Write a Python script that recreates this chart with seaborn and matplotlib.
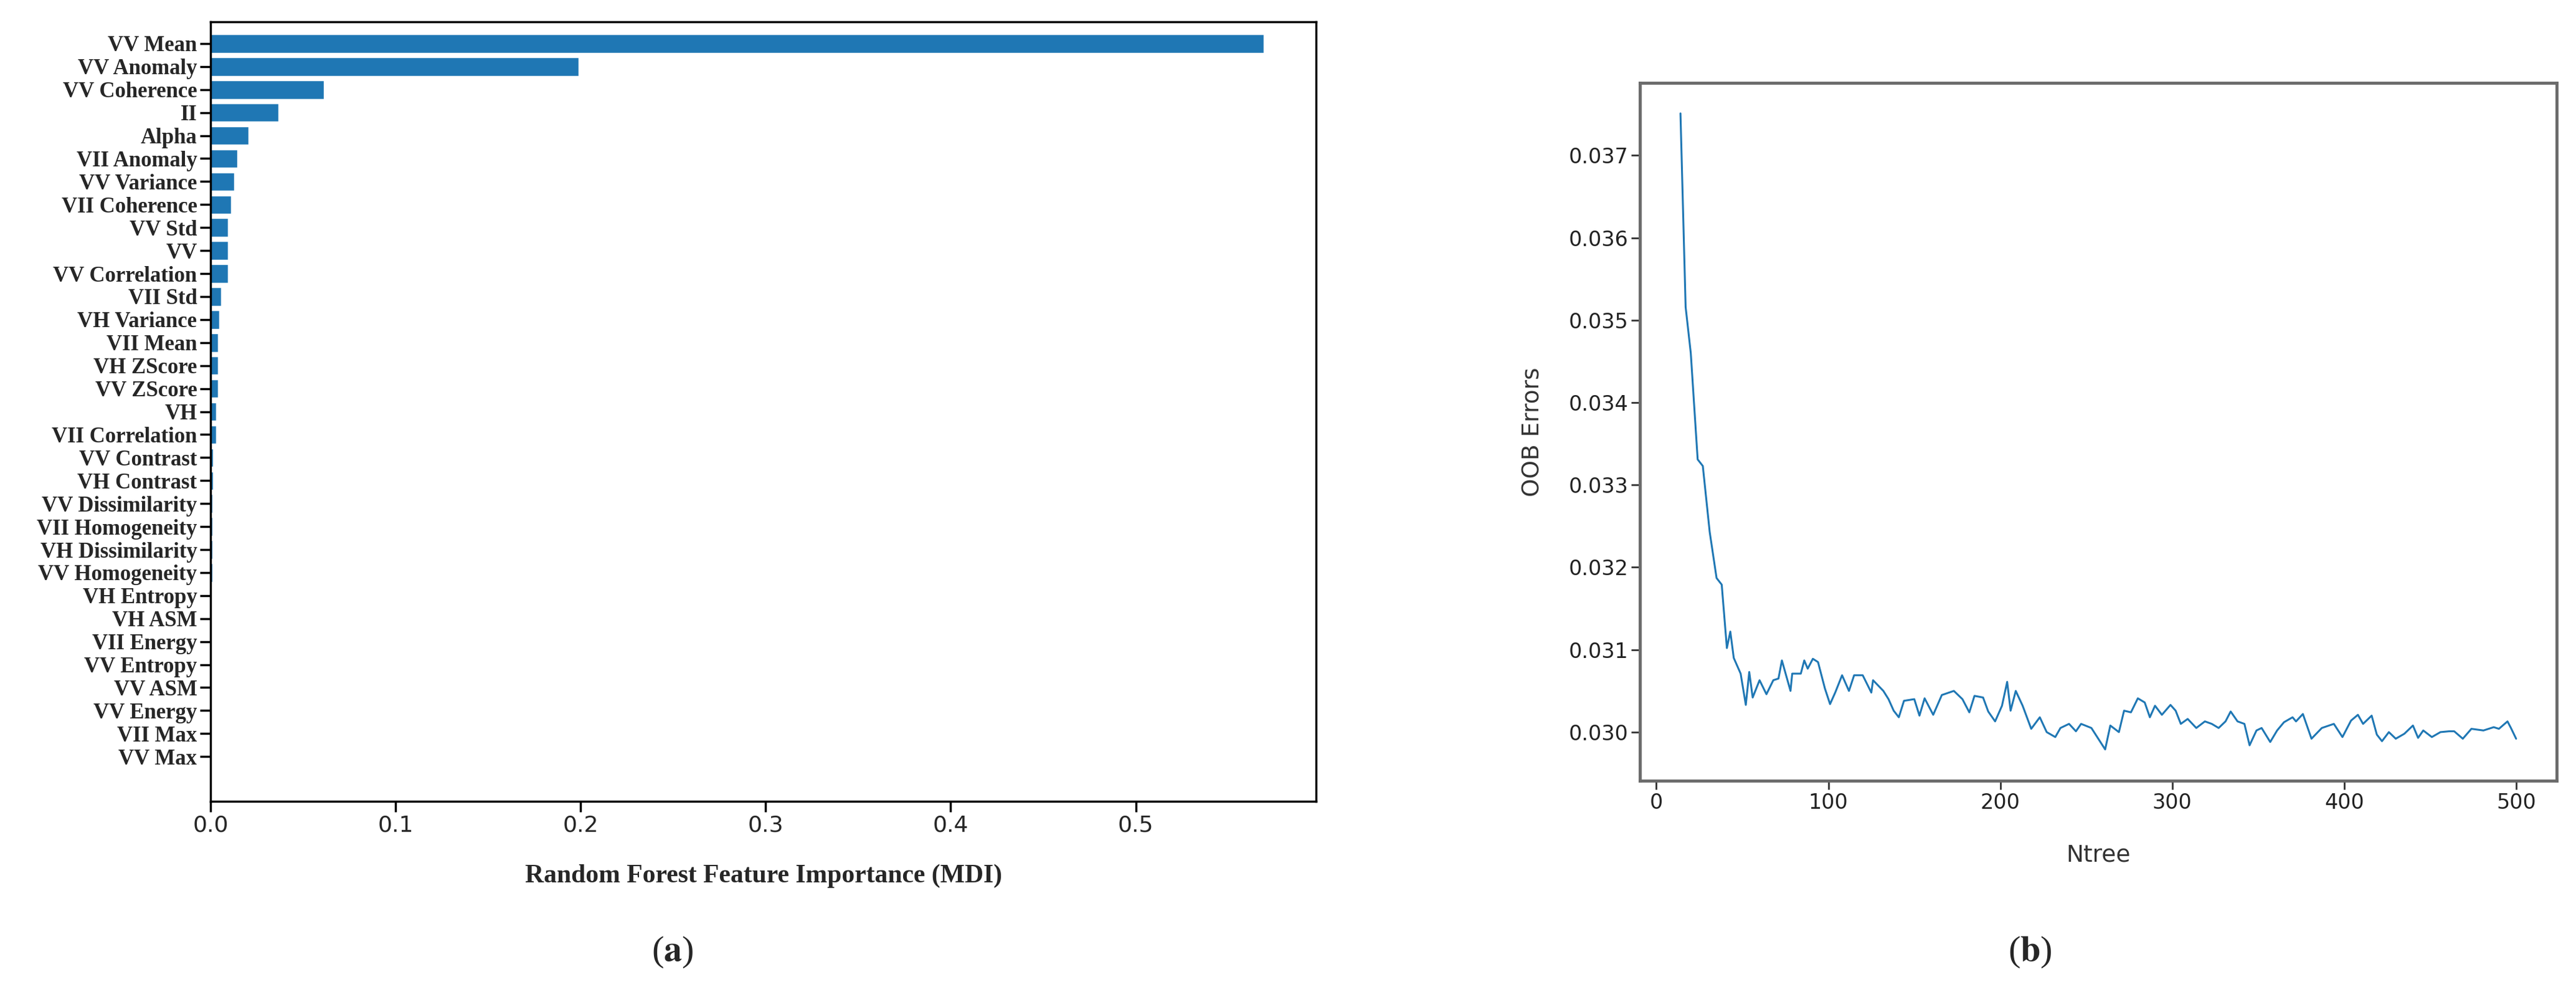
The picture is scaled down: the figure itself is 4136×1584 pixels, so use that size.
import matplotlib
matplotlib.use("Agg")
import matplotlib.pyplot as plt
import seaborn as sns
import pandas as pd

features = ["VV Mean", "VV Anomaly", "VV Coherence", "II", "Alpha", "VII Anomaly",
            "VV Variance", "VII Coherence", "VV Std", "VV", "VV Correlation", "VII Std",
            "VH Variance", "VII Mean", "VH ZScore", "VV ZScore", "VH", "VII Correlation",
            "VV Contrast", "VH Contrast", "VV Dissimilarity", "VII Homogeneity",
            "VH Dissimilarity", "VV Homogeneity", "VH Entropy", "VH ASM", "VII Energy",
            "VV Entropy", "VV ASM", "VV Energy", "VII Max", "VV Max"]
importance = [0.569, 0.199, 0.0612, 0.0366, 0.0206, 0.0145, 0.0128, 0.0111, 0.0093,
              0.0093, 0.0093, 0.0057, 0.0048, 0.0040, 0.0040, 0.0040, 0.0031, 0.0031,
              0.0015, 0.0013, 0.0012, 0.0011, 0.0010, 0.0010, 0.0003, 0.0002, 0.0002,
              0.0002, 0.0001, 0.0001, 0.00005, 0.00005]

ntree = [14, 17, 20, 24, 27, 31, 35, 38, 41, 43, 45, 49, 52, 54, 56, 60, 64, 68, 71, 73,
         78, 79, 84, 86, 88, 91, 94, 98, 101, 104, 108, 112, 115, 120, 125, 126, 132, 135,
         138, 141, 144, 150, 153, 156, 161, 166, 173, 178, 182, 185, 190, 193, 197, 201,
         204, 206, 209, 213, 218, 223, 227, 232, 235, 240, 244, 247, 253, 257, 261, 264,
         269, 272, 276, 280, 284, 287, 290, 294, 299, 302, 305, 309, 314, 319, 323, 327,
         331, 334, 338, 342, 345, 349, 352, 357, 361, 365, 370, 372, 376, 378, 381, 387,
         394, 399, 404, 408, 411, 416, 419, 422, 426, 430, 435, 440, 443, 446, 451, 456,
         461, 464, 469, 474, 481, 487, 490, 495, 497, 500]
oob = [0.03751, 0.03516, 0.0346, 0.03331, 0.03323, 0.03243, 0.03187, 0.03179, 0.03102,
       0.03122, 0.0309, 0.03071, 0.03033, 0.03073, 0.03042, 0.03063, 0.03046, 0.03063,
       0.03065, 0.03087, 0.03050, 0.03071, 0.03071, 0.03087, 0.03077, 0.03089, 0.03085,
       0.03053, 0.03034, 0.03048, 0.03069, 0.03050, 0.03069, 0.03069, 0.03048, 0.03063,
       0.03050, 0.03040, 0.03026, 0.03018, 0.03038, 0.03040, 0.03020, 0.03041, 0.03021,
       0.03045, 0.03050, 0.03040, 0.03024, 0.03044, 0.03042, 0.03025, 0.03013, 0.03032,
       0.03061, 0.03026, 0.03050, 0.03032, 0.03004, 0.03018, 0.03000, 0.02994, 0.03005,
       0.03010, 0.03001, 0.03010, 0.03005, 0.02992, 0.02979, 0.03008, 0.03000, 0.03026,
       0.03024, 0.03041, 0.03036, 0.03018, 0.03032, 0.03021, 0.03033, 0.03026, 0.03010,
       0.03016, 0.03005, 0.03013, 0.03010, 0.03005, 0.03013, 0.03025, 0.03013, 0.03010,
       0.02984, 0.03002, 0.03005, 0.02988, 0.03002, 0.03012, 0.03018, 0.03013, 0.03022,
       0.03010, 0.02992, 0.03005, 0.03010, 0.02994, 0.03014, 0.03021, 0.03010, 0.03020,
       0.02997, 0.02989, 0.03000, 0.02992, 0.02998, 0.03008, 0.02993, 0.03002, 0.02994,
       0.03000, 0.03001, 0.03001, 0.02992, 0.03004, 0.03002, 0.03006, 0.03004, 0.03013,
       0.03005, 0.02992]

sns.set_theme(style="white")
plt.rcParams["mathtext.fontset"] = "stix"
blue = "#1f77b4"

fig = plt.figure(figsize=(41.36, 15.84), dpi=100)

# (a) feature importance
ax1 = fig.add_axes([0.0817, 0.188, 0.4293, 0.79])
df = pd.DataFrame({"feature": features, "importance": importance})
sns.barplot(data=df, x="importance", y="feature", orient="h", color=blue,
            saturation=1, width=0.8, ax=ax1)
ax1.set_xlim(0, 0.5976)
ax1.set_ylim(32.95, -0.95)
ax1.set_xticks([0.0, 0.1, 0.2, 0.3, 0.4, 0.5])
ax1.set_xticklabels(["0.0", "0.1", "0.2", "0.3", "0.4", "0.5"],
                    fontsize=26, family="DejaVu Sans")
for lbl in ax1.get_yticklabels():
    lbl.set_fontfamily("Liberation Serif")
    lbl.set_fontweight("bold")
    lbl.set_fontsize(25)
ax1.set_ylabel("")
ax1.set_xlabel("Random Forest Feature Importance (MDI)", fontsize=30,
               fontweight="bold", family="Liberation Serif", labelpad=32)
ax1.tick_params(axis="both", which="both", length=12, width=2.5, color="black",
                direction="out", left=True, bottom=True)
for s in ax1.spines.values():
    s.set_color("black")
    s.set_linewidth(2.5)

# (b) OOB error
ax2 = fig.add_axes([0.6366, 0.209, 0.3559, 0.707])
sns.lineplot(x=ntree, y=oob, ax=ax2, color=blue, linewidth=2.2)
ax2.set_xlim(-9.6, 523.6)
ax2.set_ylim(0.02941, 0.03788)
ax2.set_xticks([0, 100, 200, 300, 400, 500])
ax2.set_yticks([0.030, 0.031, 0.032, 0.033, 0.034, 0.035, 0.036, 0.037])
ax2.set_yticklabels(["0.030", "0.031", "0.032", "0.033", "0.034", "0.035",
                     "0.036", "0.037"])
ax2.tick_params(axis="both", labelsize=24, labelcolor="#222222", length=10,
                width=2, color="#333333", direction="out", left=True, bottom=True)
ax2.set_xlabel("Ntree", fontsize=27, color="#333333", labelpad=36)
ax2.set_ylabel("OOB Errors", fontsize=27, color="#333333", labelpad=28)
for s in ax2.spines.values():
    s.set_color("#6b6b6b")
    s.set_linewidth(3.5)

fig.text(0.261, 0.035, r"($\mathbf{a}$)", fontsize=42, ha="center", va="center",
         family="Liberation Serif")
fig.text(0.788, 0.035, r"($\mathbf{b}$)", fontsize=42, ha="center", va="center",
         family="Liberation Serif")

fig.savefig("out.png", dpi=100, facecolor="white")
